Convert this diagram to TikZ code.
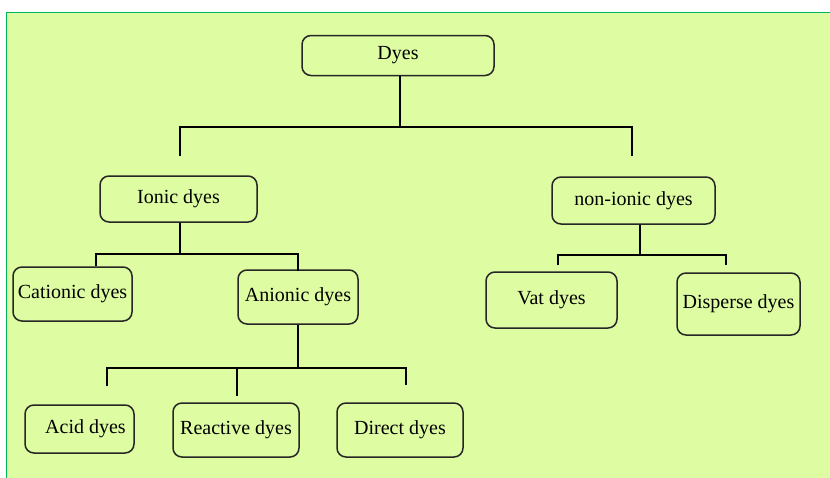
\documentclass[tikz,border=0pt]{standalone}
\usepackage{fontspec}
\setmainfont{Liberation Serif}
\definecolor{fondvert}{RGB}{222,252,162}
\definecolor{bordvert}{RGB}{0,182,90}

\begin{document}
\begin{tikzpicture}[x=1pt, y=-1pt]
\tikzset{boite/.style={draw=black!85, line width=1.5pt, rounded corners=9pt, inner sep=0pt,
  font=\fontsize{20}{23}\selectfont},
  lien/.style={draw=black, line width=1.7pt}}
\clip (0, 0) rectangle (830, 477);
\fill[white] (0, 0) rectangle (830, 477);
\draw[bordvert, fill=fondvert, line width=1.8pt] (6.5, 12.5) rectangle (840, 490);
\node[boite, minimum width=192pt, minimum height=40pt] (dyes) at (398, 55.5) {Dyes};
\node[boite, minimum width=157pt, minimum height=46pt] (ionic) at (178.5, 199) {Ionic dyes};
\node[boite, minimum width=163pt, minimum height=47pt] (nonionic) at (633.5, 200.5) {non-ionic dyes};
\node[boite, minimum width=119pt, minimum height=54pt] (cationic) at (72.5, 294) {Cationic dyes};
\node[boite, minimum width=120pt, minimum height=54pt] (anionic) at (298, 297) {Anionic dyes};
\node[boite, minimum width=131pt, minimum height=56pt] (vat) at (551.5, 300) {Vat dyes};
\node[boite, minimum width=123pt, minimum height=62pt] (disperse) at (738.5, 304) {Disperse dyes};
\node[boite, minimum width=109pt, minimum height=48pt] (acid) at (79.5, 429) {\hspace*{12pt}Acid dyes};
\node[boite, minimum width=126pt, minimum height=54pt] (reactive) at (236, 430) {Reactive dyes};
\node[boite, minimum width=126pt, minimum height=54pt] (direct) at (400, 430) {Direct dyes};
% niveau 1
\draw[lien] ([xshift=2pt]dyes.south) -- ++(0, 51) coordinate (dbus);
\draw[lien, shorten <=19pt, shorten >=20pt] ([xshift=1.5pt]ionic.north) |- (dbus) -| ([xshift=-1.5pt]nonionic.north);
% ionic
\draw[lien] ([xshift=1.5pt]ionic.south) -- ++(0, 31) coordinate (ibus);
\draw[lien] ([xshift=23.5pt]cationic.north) |- (ibus) -| ([yshift=-2pt]anionic.north);
\draw[lien] (anionic.south) -- ++(0, 43) coordinate (abus);
\draw[lien, shorten <=18pt, shorten >=17pt] ([xshift=27.5pt]acid.north) |- (abus) -| ([xshift=6pt]direct.north);
\draw[lien, shorten <=6pt] ([xshift=1pt]reactive.north) -- ([xshift=1pt]reactive.north |- abus);
% non-ionic
\draw[lien] ([xshift=6.5pt]nonionic.south) -- ++(0, 30) coordinate (nbus);
\draw[lien, shorten <=6pt, shorten >=7pt] ([xshift=6.5pt]vat.north) |- (nbus) -| ([xshift=-12.5pt]disperse.north);
\end{tikzpicture}
\end{document}
